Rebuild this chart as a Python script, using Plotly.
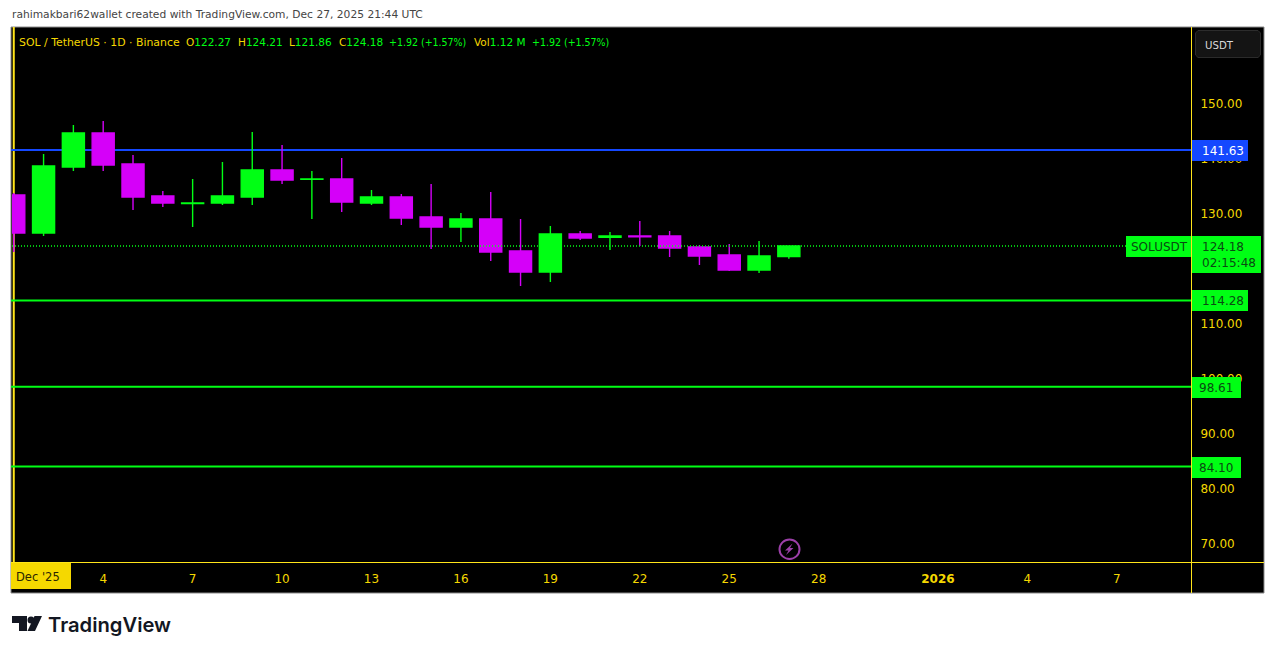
import plotly.graph_objects as go

W = 1275
H = 654

GREEN = "#00ff14"
MAGENTA = "#d500f9"
YELLOW = "#f5d800"
LINE_YELLOW = "#ffe51a"
BLUE = "#1448ff"
DARK_GREEN = "#0a4a12"
FONT = "DejaVu Sans"
FONT_NARROW = "DejaVu Sans Condensed, DejaVu Sans"

dates = ["2025-12-%02d" % d for d in range(1, 28)]
opens = [133.45, 126.55, 138.55, 144.73, 139.09, 133.27, 131.91, 132.00, 133.09, 138.00, 136.30, 136.36, 132.00,
         133.09, 129.45, 127.64, 129.09, 123.27, 119.45, 126.36, 125.75, 126.00, 126.00, 124.00, 122.55, 119.82, 122.27]
highs = [133.82, 140.91, 146.18, 146.91, 140.73, 134.18, 136.36, 139.45, 144.91, 142.55, 137.82, 140.18, 134.36,
         133.64, 135.45, 130.18, 134.00, 129.09, 127.82, 126.91, 126.73, 128.73, 126.91, 124.36, 124.55, 125.09, 124.21]
lows = [123.09, 126.00, 137.82, 137.82, 130.73, 131.27, 127.64, 131.64, 131.64, 135.45, 129.09, 130.36, 131.64,
        128.00, 123.64, 124.91, 121.45, 116.91, 117.64, 125.27, 123.45, 124.18, 122.18, 120.73, 119.64, 119.27, 121.86]
closes = [126.55, 138.73, 144.73, 138.91, 133.09, 132.00, 132.00, 133.27, 138.00, 136.18, 136.36, 132.18, 133.09,
          129.27, 127.64, 129.09, 123.09, 119.45, 126.36, 125.64, 126.00, 125.85, 123.82, 122.36, 119.82, 122.36, 124.18]

y_ticks = [150, 140, 130, 120, 110, 100, 90, 80, 70]
x_ticks = ["2025-12-04", "2025-12-07", "2025-12-10", "2025-12-13", "2025-12-16", "2025-12-19", "2025-12-22",
           "2025-12-25", "2025-12-28", "2026-01-01", "2026-01-04", "2026-01-07"]
x_tick_labels = ["4", "7", "10", "13", "16", "19", "22", "25", "28", "<b>2026</b>", "4", "7"]

level_blue = 141.63
levels_green = [114.28, 98.61, 84.10]
last_price = 124.18


def px_x(v):
    return v / W


def px_y(v):
    return 1 - v / H


def rect(x0, y0, x1, y1, fill, line=None, layer="above"):
    return dict(type="rect", xref="paper", yref="paper", x0=px_x(x0), x1=px_x(x1), y0=px_y(y0), y1=px_y(y1),
                fillcolor=fill, line=dict(color=line or fill, width=1 if line else 0), layer=layer)


def seg(x0, y0, x1, y1, color, width=1, layer="above"):
    return dict(type="line", xref="paper", yref="paper", x0=px_x(x0), x1=px_x(x1), y0=px_y(y0), y1=px_y(y1),
                line=dict(color=color, width=width), layer=layer)


def poly(points, fill, line=None):
    p = "M" + " L".join("%.5f,%.5f" % (px_x(a), px_y(b)) for a, b in points) + " Z"
    return dict(type="path", xref="paper", yref="paper", path=p, fillcolor=fill,
                line=dict(color=line, width=1) if line else dict(width=0), layer="above")


def label(x, y, text, color, size=12, anchor="left", family=FONT, weight=None):
    font = dict(family=family, size=size, color=color)
    if weight:
        font["weight"] = weight
    return dict(xref="paper", yref="paper", x=px_x(x), y=px_y(y), text=text, showarrow=False, xanchor=anchor,
                yanchor="middle", borderpad=0, font=font)


def pair(a, b):
    return '<span style="color:%s">%s</span><span style="color:%s">%s</span>' % (YELLOW, a, GREEN, b)


fig = go.Figure()
fig.add_trace(go.Candlestick(
    x=dates, open=opens, high=highs, low=lows, close=closes,
    increasing=dict(line=dict(color=GREEN, width=1.4), fillcolor=GREEN),
    decreasing=dict(line=dict(color=MAGENTA, width=1.4), fillcolor=MAGENTA),
    hoverinfo="skip", showlegend=False,
))

shapes = [rect(11, 27, 1264, 593, "#000000", line="#8a8a8a", layer="below")]
# session break + levels sit under the candles
shapes.append(dict(type="line", xref="x", yref="paper", x0="2025-12-01", x1="2025-12-01",
                   y0=px_y(562), y1=px_y(27), line=dict(color=LINE_YELLOW, width=2), layer="below"))
shapes.append(seg(11, 150, 1191, 150, BLUE, width=2, layer="below"))
shapes[-1].update(yref="y", y0=level_blue, y1=level_blue)
for lv in levels_green:
    shapes.append(seg(11, 150, 1191, 150, GREEN, width=2, layer="below"))
    shapes[-1].update(yref="y", y0=lv, y1=lv)
shapes.append(dict(type="line", xref="x domain", yref="y", x0=0, x1=1114 / 1179, y0=last_price, y1=last_price,
                   line=dict(color=GREEN, width=1.7, dash="1px,2px"), layer="above"))

shapes += [
    seg(1191.5, 27, 1191.5, 593, LINE_YELLOW),
    seg(11, 562.5, 1264, 562.5, LINE_YELLOW),
    rect(11, 563, 71, 589, YELLOW),
    rect(1192, 140, 1248, 161, BLUE),
    rect(1192, 290, 1248, 311, GREEN),
    rect(1192, 377, 1241, 398, GREEN),
    rect(1192, 457, 1241, 478, GREEN),
    rect(1126, 236, 1191, 257, GREEN),
    rect(1192, 236, 1261, 273, GREEN),
    poly([(1198, 30.5), (1258, 30.5), (1260.5, 33), (1260.5, 55), (1258, 57.5), (1198, 57.5), (1195.5, 55), (1195.5, 33)],
         "#141414", line="#2c2c2c"),
    # lightning icon
    dict(type="circle", xref="paper", yref="paper", x0=px_x(779.5), x1=px_x(799.5), y0=px_y(559), y1=px_y(539.5),
         line=dict(color="#9c3fa8", width=2), layer="above"),
    poly([(792.5, 543.5), (785, 550.5), (788.5, 550.5), (786, 555), (793.5, 548), (790, 548)], "#9c3fa8"),
    # TradingView logo
    poly([(12, 616), (27, 616), (27, 631), (19, 631), (19, 623), (12, 623)], "#131722"),
    poly([(34.5, 616), (42, 616), (35, 631), (27.5, 631)], "#131722"),
    dict(type="circle", xref="paper", yref="paper", x0=px_x(27.5), x1=px_x(34.5), y0=px_y(623.5), y1=px_y(616.5),
         fillcolor="#131722", line=dict(width=0), layer="above"),
]

annotations = [
    label(11, 14, "rahimakbari62wallet created with TradingView.com, Dec 27, 2025 21:44 UTC", "#444444", size=10.7),
    label(17.5, 42, "SOL / TetherUS · 1D · Binance", YELLOW, size=10.9),
    label(185.5, 42, pair("O", "122.27"), GREEN, size=10.5),
    label(236.5, 42, pair("H", "124.21"), GREEN, size=10.5),
    label(287.5, 42, pair("L", "121.86"), GREEN, size=10.5),
    label(337.5, 42, pair("C", "124.18"), GREEN, size=10.5),
    label(388, 42, "+1.92 (+1.57%)", GREEN, size=10.5, family=FONT_NARROW),
    label(473, 42, pair("Vol", "1.12 M"), GREEN, size=10.5),
    label(531, 42, "+1.92 (+1.57%)", GREEN, size=10.5, family=FONT_NARROW),
    label(1203.5, 45, "USDT", "#d8d8d8", size=10.2),
    label(37.5, 577, "Dec '25", "#2a2600", size=11.5, anchor="center"),
    label(1200.5, 151, "141.63", "#ffffff"),
    label(1200.5, 301, "114.28", DARK_GREEN),
    label(1197.5, 388, "98.61", DARK_GREEN),
    label(1197.5, 468, "84.10", DARK_GREEN),
    label(1129.5, 247, "SOLUSDT", DARK_GREEN),
    label(1200.5, 247, "124.18", DARK_GREEN),
    label(1200.5, 263, "02:15:48", DARK_GREEN),
    label(47, 624, "TradingView", "#131722", size=20.2, family="Inter", weight=600),
]

fig.update_layout(
    width=W, height=H, margin=dict(l=0, r=0, t=0, b=0),
    paper_bgcolor="#ffffff", plot_bgcolor="#000000",
    showlegend=False, shapes=shapes, annotations=annotations, hovermode=False,
    boxgap=0.26, boxgroupgap=0,
    xaxis=dict(
        domain=[12 / W, 1191 / W], range=["2025-11-30 22:35", "2026-01-09 11:45"],
        rangeslider=dict(visible=False), showgrid=False, zeroline=False, showline=False,
        tickmode="array", tickvals=x_ticks, ticktext=x_tick_labels, ticks="outside", ticklen=6,
        tickcolor="rgba(0,0,0,0)", tickfont=dict(family=FONT, size=12, color=YELLOW),
    ),
    yaxis=dict(
        domain=[1 - 562 / H, 1 - 28 / H], range=[66.73, 163.82], side="right",
        showgrid=False, zeroline=False, showline=False,
        tickmode="array", tickvals=y_ticks, ticktext=["%.2f" % v for v in y_ticks], ticks="outside", ticklen=6,
        tickcolor="rgba(0,0,0,0)", tickfont=dict(family=FONT, size=12, color=YELLOW),
    ),
)

fig.write_html("out.html", config={"displayModeBar": False},
               post_script="document.body.style.margin='0';document.body.style.overflow='hidden';")
